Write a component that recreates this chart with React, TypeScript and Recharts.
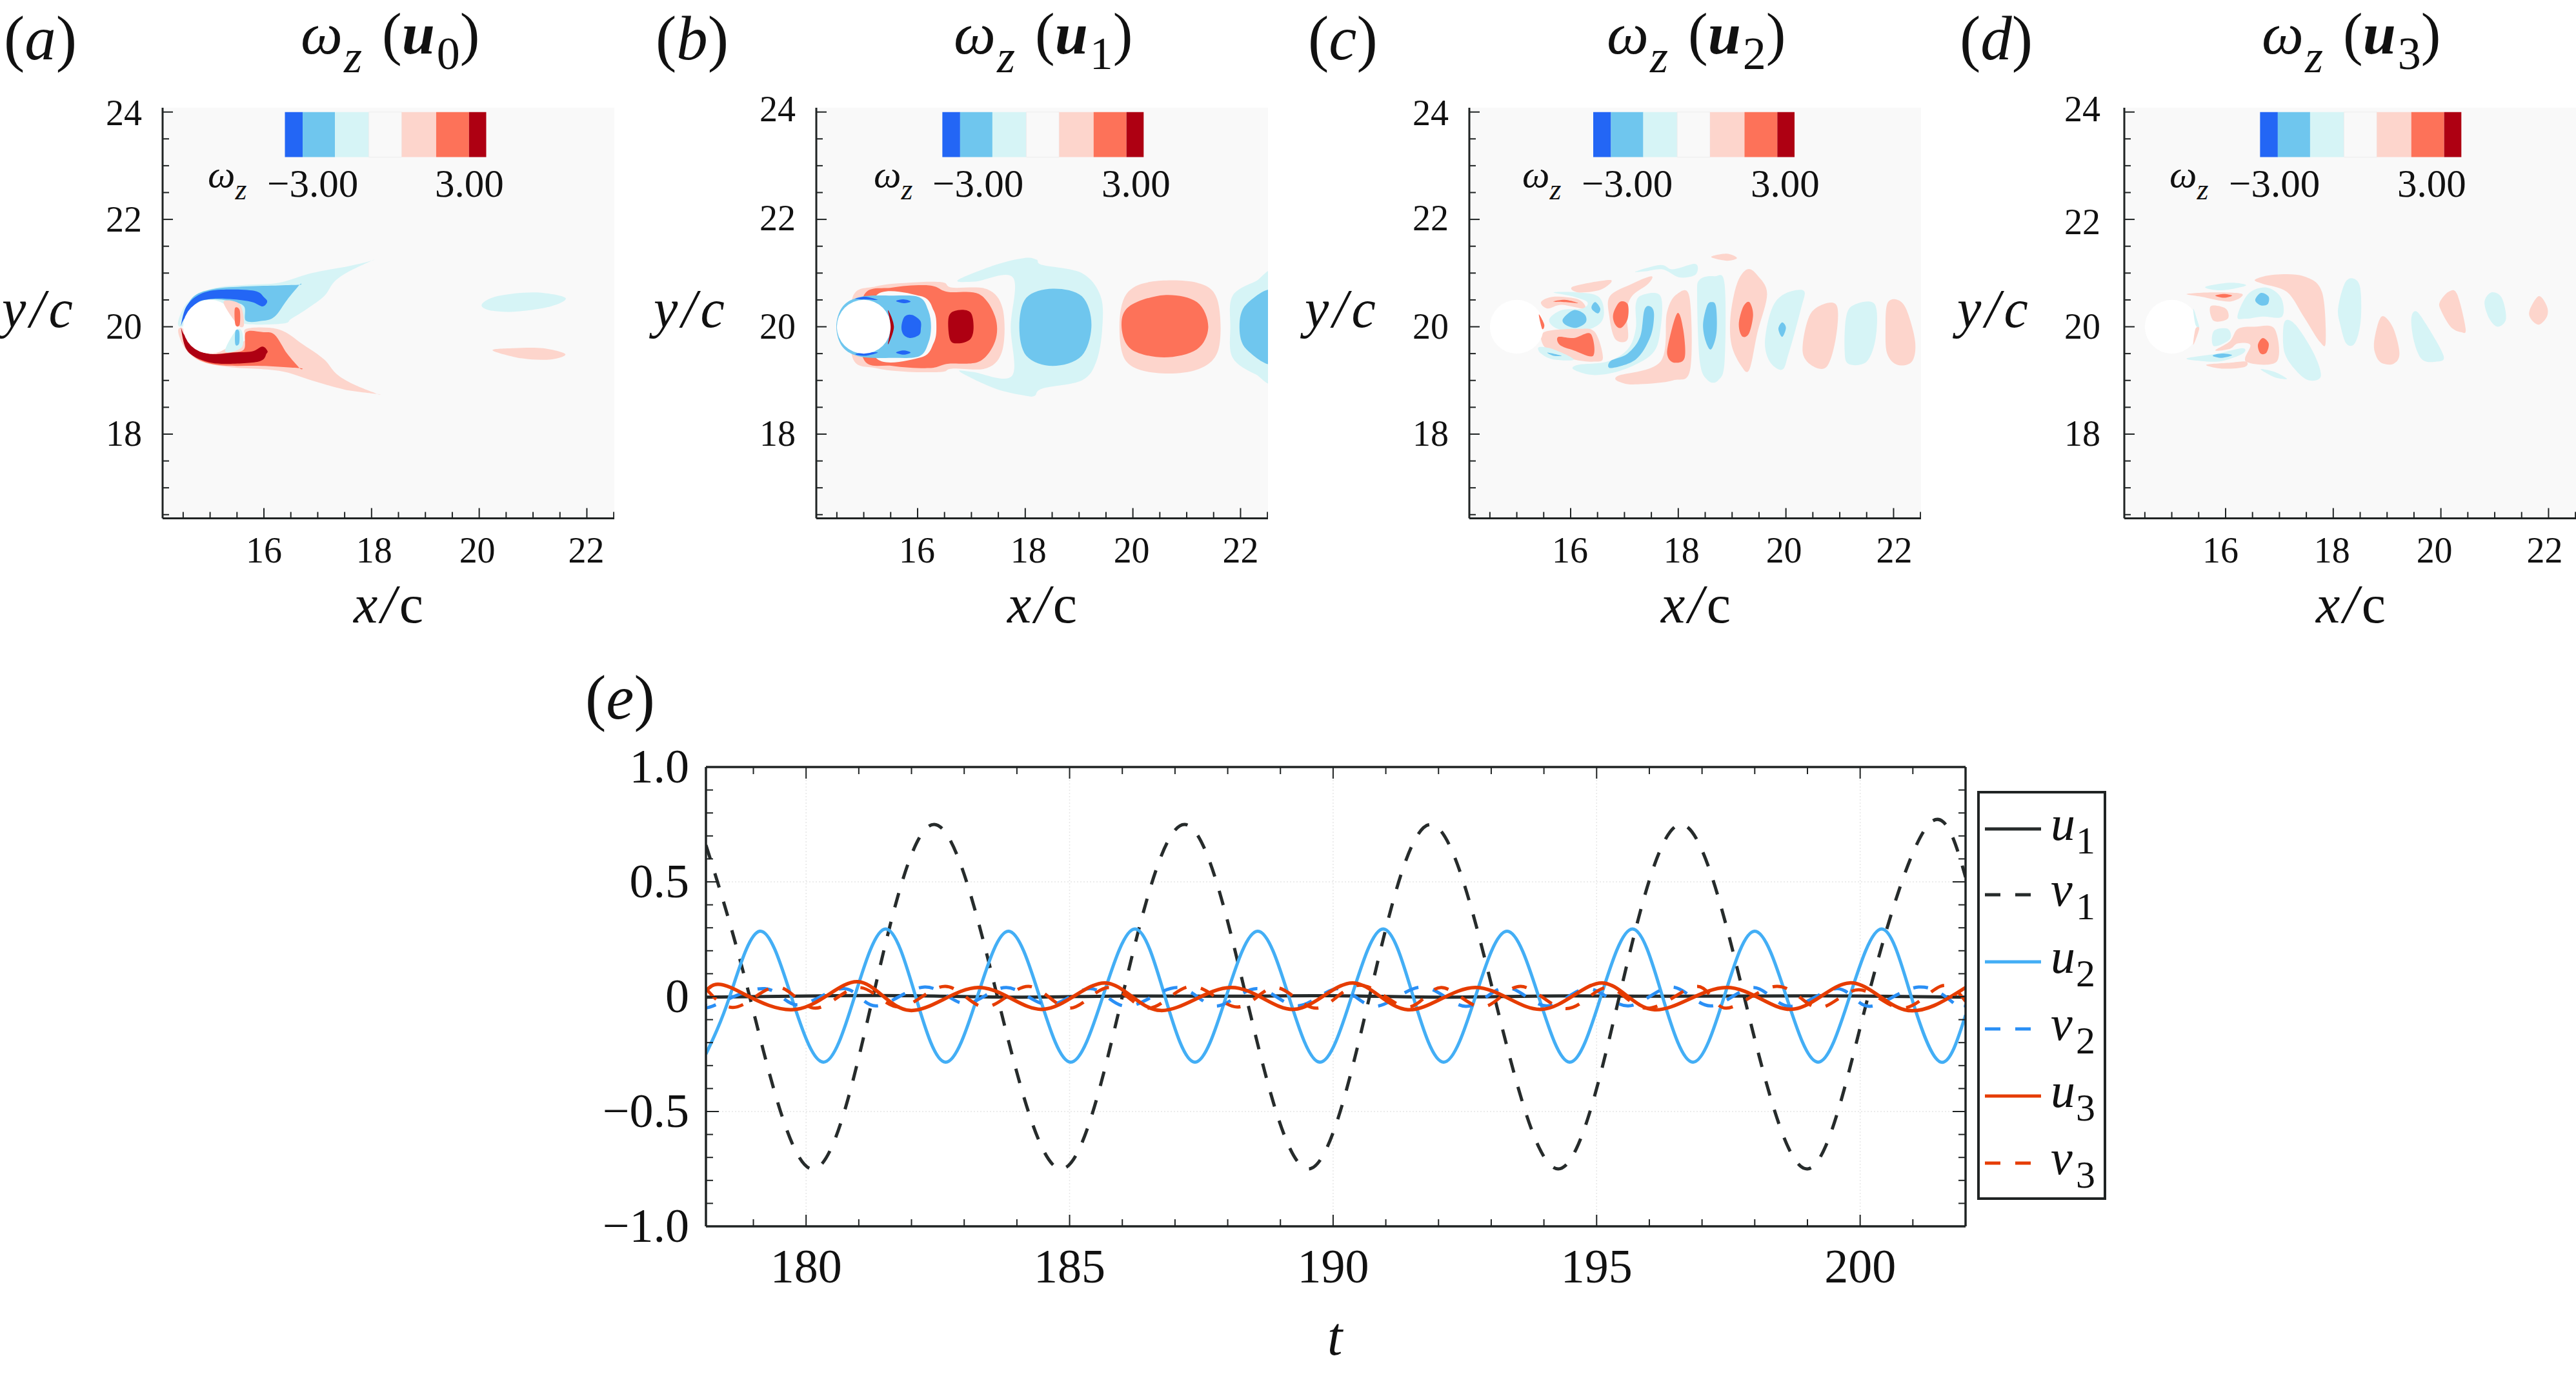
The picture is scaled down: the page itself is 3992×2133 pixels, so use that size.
import React from "react";
import { ScatterChart, Scatter, LineChart, Line, XAxis, YAxis, ReferenceArea, ReferenceLine } from "recharts";

type P = [number, number];

// ---------- colour levels ----------
const L = "#fdd5cc", B = "#d6f4f6", M = "#6fc6ee", D = "#2366f5", R = "#fd7259", K = "#ae0012", BG = "#f9f9f9";
const colorbarColors = [D, M, B, BG, L, R, K];
const colorbarEdges = [16.39, 16.72, 17.32, 17.95, 18.56, 19.2, 19.81, 20.13];
const colorbarTop = 24.0;
const colorbarBottom = 23.16;
const cylinder = [{ x: 15, y: 20 }];

// ---------- panel (a) contours, u0 ----------
const a1: P[] = [[14.44,20],[14.5,20.34],[14.75,20.59],[15.13,20.73],[15.67,20.78],[16.28,20.82],[16.89,21],[17.58,21.13],[18,21.23],[18,21.23],[17.58,21.03],[17.31,20.84],[17.12,20.57],[16.81,20.34],[16.51,20.15],[16.36,20.06],[15.67,20.05],[15.59,20.19],[15.05,20.27]];
const a2: P[] = [[14.48,20.11],[14.67,20.54],[15.05,20.7],[15.67,20.75],[16.28,20.77],[16.66,20.78],[16.66,20.78],[16.43,20.5],[16.2,20.19],[15.97,20.11],[15.67,20.11],[15.63,20.38],[15.36,20.48],[14.98,20.51],[14.67,20.42]];
const a3: P[] = [[14.46,20.02],[14.56,20.38],[14.82,20.61],[15.21,20.69],[15.82,20.67],[16.01,20.54],[16.06,20.46],[15.97,20.38],[15.78,20.46],[15.44,20.51],[15.05,20.52],[14.75,20.44],[14.52,20.15]];
const a4: P[] = [[14.44,19.98],[14.52,19.62],[14.82,19.36],[15.36,19.25],[16.28,19.18],[16.89,19],[17.5,18.83],[18.1,18.75],[18.1,18.75],[17.66,18.93],[17.35,19.12],[17.12,19.39],[16.74,19.66],[16.28,19.95],[15.67,19.96],[15.63,19.73],[15.05,19.69]];
const a5: P[] = [[14.48,19.89],[14.67,19.47],[15.13,19.29],[15.97,19.27],[16.66,19.23],[16.66,19.23],[16.43,19.5],[16.2,19.85],[15.97,19.9],[15.67,19.9],[15.63,19.58],[15.36,19.52],[14.98,19.49],[14.67,19.58]];
const a6: P[] = [[14.46,19.98],[14.56,19.58],[14.82,19.39],[15.21,19.31],[15.9,19.35],[16.05,19.5],[16.06,19.56],[15.97,19.63],[15.78,19.54],[15.44,19.52],[15.05,19.49],[14.75,19.58],[14.52,19.85]];
const a7: P[] = [[20.05,20.42],[20.34,20.57],[21.03,20.64],[21.6,20.54],[21.33,20.38],[20.64,20.28],[20.18,20.31]];
const a8: P[] = [[20.25,19.56],[20.64,19.6],[21.18,19.6],[21.6,19.49],[21.33,19.39],[20.8,19.41]];
const a9: P[] = [[15.25,20.46],[15.55,20.42],[15.63,20.04],[15.51,20.04]];
const a10: P[] = [[15.46,20.34],[15.55,20.31],[15.55,20.04],[15.47,20.04]];
const a11: P[] = [[15.47,19.92],[15.59,19.92],[15.59,19.62],[15.28,19.54]];
const a12: P[] = [[15.47,19.92],[15.54,19.92],[15.54,19.69],[15.47,19.67]];

// ---------- panel (b) contours, u1 ----------
const b1: P[] = [[14.79,20.54],[15.22,20.75],[15.83,20.82],[16.45,20.83],[16.64,20.73],[17.29,20.7],[17.58,20.34],[17.58,19.58],[17.29,19.23],[16.64,19.22],[16.45,19.16],[15.83,19.16],[15.22,19.23],[14.79,19.43]];
const b2: P[] = [[14.99,20.56],[15.53,20.73],[16.22,20.77],[16.56,20.65],[17.14,20.61],[17.44,20.19],[17.44,19.73],[17.14,19.35],[16.56,19.31],[16.22,19.23],[15.53,19.27],[14.99,19.41]];
const b3: P[] = [[15.22,20.57],[16.06,20.57],[16.3,20.3],[16.35,20],[16.3,19.7],[16.06,19.43],[15.22,19.43]];
const b4: P[] = [[14.49,20],[14.61,20.38],[14.95,20.56],[15.53,20.58],[16.03,20.55],[16.2,20.3],[16.25,20],[16.2,19.7],[16.03,19.45],[15.53,19.42],[14.95,19.44],[14.61,19.62]];
const b5: P[] = [[15.7,20],[15.76,20.19],[15.9,20.22],[16.05,20.11],[16.06,19.96],[16.03,19.85],[15.87,19.79],[15.74,19.85]];
const b6: P[] = [[15.6,20.48],[15.74,20.51],[15.87,20.47],[15.74,20.44]];
const b7: P[] = [[15.6,19.52],[15.74,19.56],[15.87,19.52],[15.74,19.48]];
const b8: P[] = [[14.84,20.52],[15.03,20.56],[15.26,20.5],[15.03,20.51]];
const b9: P[] = [[14.84,19.49],[15.03,19.52],[15.26,19.52],[15.03,19.46]];
const b10: P[] = [[15.45,20.31],[15.56,20],[15.45,19.67],[15.5,20]];
const b11: P[] = [[16.58,20.19],[16.75,20.31],[16.98,20.27],[17.04,20],[16.98,19.77],[16.75,19.69],[16.6,19.77]];
const b12: P[] = [[16.75,20.87],[17.44,21.15],[17.98,21.28],[18.21,21.25],[18.32,21.15],[19.05,21],[19.4,20.57],[19.43,19.96],[19.32,19.35],[19.05,19],[18.32,18.85],[18.17,18.71],[17.98,18.72],[17.44,18.85],[16.79,19.16],[17.02,19.16],[17.75,19.08],[17.73,20],[17.77,20.92],[17.06,20.84]];
const b13: P[] = [[17.89,20],[18.02,20.54],[18.51,20.71],[19.05,20.57],[19.23,20.04],[19.05,19.46],[18.51,19.27],[18.02,19.46]];
const b14: P[] = [[19.75,20],[19.88,20.61],[20.35,20.84],[21.19,20.82],[21.57,20.5],[21.59,19.58],[21.19,19.2],[20.43,19.14],[19.88,19.35]];
const b15: P[] = [[19.79,20],[19.93,20.38],[20.58,20.59],[21.19,20.46],[21.4,20],[21.19,19.58],[20.58,19.43],[19.97,19.58]];
const b16: P[] = [[21.81,20],[21.85,20.57],[22.27,20.84],[22.65,20.94],[22.65,19.06],[22.27,19.12],[21.85,19.43]];
const b17: P[] = [[21.98,20],[22.11,20.42],[22.65,20.64],[22.65,19.35],[22.11,19.58]];

// ---------- panel (c) contours, u2 ----------
const c1: P[] = [[15.45,20.46],[15.68,20.56],[16.14,20.51],[16.26,20.34],[15.83,20.41],[15.57,20.34]];
const c2: P[] = [[15.68,20.47],[15.91,20.5],[16.14,20.44],[15.91,20.46]];
const c3: P[] = [[15.68,20.64],[16.14,20.64],[16.52,20.56],[16.62,20.27],[16.52,20.04],[16.14,19.9],[15.76,19.96],[15.6,20.13],[15.83,20.31],[16.22,20.34],[16.31,20.46],[16.06,20.56]];
const c4: P[] = [[15.86,20.15],[16.06,20.31],[16.26,20.23],[16.28,20.08],[16.1,19.98],[15.9,20.04]];
const c5: P[] = [[16.39,20.38],[16.46,20.46],[16.55,20.34],[16.51,20.25],[16.41,20.31]];
const c6: P[] = [[16.05,20.75],[16.74,20.87],[16.56,20.69],[16.14,20.64]];
const c7: P[] = [[15.51,19.9],[16.14,19.96],[16.45,19.9],[16.6,19.43],[16.45,19.35],[16.06,19.39],[15.68,19.54],[15.49,19.66]];
const c8: P[] = [[15.77,19.81],[16.06,19.79],[16.37,19.87],[16.42,19.46],[16.06,19.56],[15.8,19.66]];
const c9: P[] = [[15.41,19.62],[15.68,19.58],[16.06,19.39],[15.68,19.39],[15.45,19.5]];
const c10: P[] = [[15.57,19.52],[15.83,19.46],[15.68,19.46]];
const c11: P[] = [[17.33,20.59],[17.67,20.57],[17.67,19.96],[17.52,19.5],[16.98,19.2],[16.45,19.1],[16.06,19.2],[16.14,19.29],[16.68,19.35],[17.06,19.58],[17.21,19.96],[17.21,20.42]];
const c12: P[] = [[17.37,20.31],[17.48,20.38],[17.55,20.23],[17.48,19.81],[17.21,19.39],[16.75,19.23],[16.74,19.36],[17.06,19.5],[17.29,19.81]];
const c13: P[] = [[16.73,20.57],[17.14,20.8],[17.5,20.94],[17.44,20.8],[17.14,20.57],[17.04,20.27],[17.06,19.77],[16.83,19.77],[16.72,20.19]];
const c14: P[] = [[16.79,20.23],[16.91,20.46],[17.06,20.42],[17.06,20.15],[16.94,19.98],[16.83,20.04]];
const c15: P[] = [[16.87,19.08],[17.67,19.35],[17.79,20.27],[17.98,20.61],[18.21,20.54],[18.22,19.2],[17.9,19],[17.29,18.93],[16.98,18.95]];
const c16: P[] = [[17.81,19.66],[17.98,20.25],[18.09,19.96],[18.12,19.43],[17.94,19.33],[17.81,19.43]];
const c17: P[] = [[17.21,21.03],[17.67,21.15],[17.9,21.07],[18.32,21.17],[18.32,20.97],[18.02,20.92],[17.71,21.07],[17.37,21.03]];
const c18: P[] = [[18.61,21.3],[18.9,21.36],[19.09,21.28],[18.9,21.23]];
const c19: P[] = [[18.35,20.57],[18.4,20.88],[18.67,20.94],[18.86,20.8],[18.86,19.35],[18.74,19],[18.55,19],[18.4,19.35]];
const c20: P[] = [[18.46,20.04],[18.53,20.38],[18.61,20.46],[18.7,20.38],[18.71,19.89],[18.61,19.58],[18.51,19.73]];
const c21: P[] = [[18.97,20.19],[19.09,20.8],[19.28,21.07],[19.47,20.96],[19.65,20.61],[19.47,19.89],[19.32,19.2],[19.17,19.27],[18.99,19.66]];
const c22: P[] = [[19.13,20.11],[19.21,20.38],[19.32,20.46],[19.39,20.23],[19.32,19.89],[19.21,19.81],[19.14,19.92]];
const c23: P[] = [[19.61,19.73],[19.74,20.34],[19.97,20.61],[20.33,20.67],[20.28,20.34],[20.05,19.5],[19.93,19.2],[19.7,19.35]];
const c24: P[] = [[19.86,19.96],[19.93,20.08],[20,19.98],[19.93,19.81]];
const c25: P[] = [[20.31,19.54],[20.43,20.19],[20.7,20.42],[20.95,20.38],[20.93,19.81],[20.77,19.27],[20.51,19.26]];
const c26: P[] = [[21.09,19.58],[21.12,20.19],[21.27,20.41],[21.65,20.42],[21.67,19.81],[21.5,19.35],[21.16,19.31]];
const c27: P[] = [[21.85,19.96],[21.88,20.42],[22.04,20.51],[22.23,20.34],[22.4,19.73],[22.34,19.35],[22.07,19.29],[21.88,19.5]];
const c28: P[] = [[15.41,20.23],[15.51,20.04],[15.47,19.96]];

// ---------- panel (d) contours, u3 ----------
const d1: P[] = [[15.28,20.61],[15.78,20.64],[16.31,20.61],[16.08,20.47],[15.55,20.56]];
const d2: P[] = [[15.81,20.58],[15.97,20.61],[16.12,20.58],[15.97,20.54]];
const d3: P[] = [[15.62,20.74],[16.08,20.82],[16.38,20.77],[15.93,20.68]];
const d4: P[] = [[15.72,20.38],[16,20.34],[16.04,20.15],[15.78,20.11]];
const d5: P[] = [[16.22,20.19],[16.42,20.61],[16.76,20.73],[17.03,20.54],[17.05,20.19],[16.69,20.19],[16.38,20.15]];
const d6: P[] = [[16.55,20.5],[16.66,20.63],[16.8,20.56],[16.78,20.42],[16.65,20.4]];
const d7: P[] = [[16.55,20.88],[16.91,20.97],[17.45,20.94],[17.79,20.65],[17.86,19.73],[17.75,19.72],[17.45,20.19],[17.14,20.65],[16.69,20.8]];
const d8: P[] = [[15.78,19.92],[16.04,19.96],[16.08,19.77],[15.78,19.64]];
const d9: P[] = [[15.81,19.56],[16.08,19.73],[16.23,19.96],[16.53,20],[16.91,19.96],[16.95,19.35],[16.38,19.35],[16.46,19.66],[16.23,19.69],[16.08,19.59]];
const d10: P[] = [[16.6,19.66],[16.69,19.79],[16.8,19.69],[16.76,19.52],[16.65,19.5]];
const d11: P[] = [[15.28,19.41],[15.85,19.5],[16.31,19.6],[16.32,19.5],[15.93,19.36],[15.55,19.36]];
const d12: P[] = [[15.76,19.46],[15.93,19.5],[16.12,19.47],[15.93,19.42]];
const d13: P[] = [[15.64,19.29],[16.08,19.33],[16.38,19.35],[16.35,19.25],[15.93,19.22]];
const d14: P[] = [[16.65,19.21],[16.91,19.16],[17.14,19.03],[16.91,19.06]];
const d15: P[] = [[17.07,19.96],[17.14,20.13],[17.33,20],[17.64,19.5],[17.77,19.08],[17.56,19],[17.33,19.16],[17.1,19.5]];
const d16: P[] = [[18.09,20.34],[18.21,20.8],[18.36,20.9],[18.5,20.73],[18.51,20.11],[18.4,19.69],[18.24,19.69],[18.13,20.04]];
const d17: P[] = [[18.76,19.73],[18.85,20.11],[18.95,20.19],[19.12,19.96],[19.23,19.5],[19.12,19.31],[18.89,19.33],[18.78,19.5]];
const d18: P[] = [[19.45,20.15],[19.54,20.29],[19.73,20.04],[20.05,19.46],[19.92,19.35],[19.65,19.39],[19.5,19.73]];
const d19: P[] = [[19.98,20.46],[20.14,20.65],[20.3,20.61],[20.46,19.96],[20.37,19.9],[20.18,20],[20,20.31]];
const d20: P[] = [[20.81,20.46],[20.94,20.64],[21.13,20.54],[21.21,20.15],[21.06,20],[20.9,20.15]];
const d21: P[] = [[21.65,20.31],[21.82,20.57],[21.97,20.38],[21.97,20.19],[21.82,20.04],[21.67,20.15]];
const d22: P[] = [[15.4,20.34],[15.51,20],[15.44,20.04]];
const d23: P[] = [[15.4,19.66],[15.51,19.96],[15.44,19.96]];

// ---------- panel (e) series: [t, value] ----------
const u1: P[] = [[178.1,-0.002],[180,0.003],[182,0.004],[184,-0.002],[186,0.003],[188,0.002],[190,0.004],[192,-0.002],[194,0.003],[196,0.002],[198,0.003],[200,0.003],[202,-0.002]];
const v1: P[] = [[178.1,0.66],[178.93,0],[180.1,-0.75],[181.27,0],[182.43,0.75],[183.63,0],[184.84,-0.75],[186,0],[187.18,0.75],[188.35,0],[189.53,-0.75],[190.69,0],[191.85,0.75],[193.06,0],[194.27,-0.75],[195.43,0],[196.6,0.75],[197.8,0],[199,-0.75],[200.15,0],[201.3,0.75],[202,0.52]];
const u2: P[] = [[178.1,-0.25],[178.55,0],[179.12,0.285],[179.72,0],[180.33,-0.285],[180.92,0],[181.51,0.295],[182.08,0],[182.65,-0.285],[183.25,0],[183.84,0.285],[184.43,0],[185.02,-0.285],[185.63,0],[186.24,0.295],[186.81,0],[187.38,-0.285],[187.97,0],[188.57,0.285],[189.16,0],[189.75,-0.285],[190.35,0],[190.95,0.295],[191.52,0],[192.1,-0.285],[192.7,0],[193.3,0.285],[193.9,0],[194.49,-0.285],[195.08,0],[195.68,0.295],[196.25,0],[196.83,-0.285],[197.42,0],[198,0.285],[198.6,0],[199.2,-0.285],[199.8,0],[200.41,0.295],[200.97,0],[201.53,-0.285],[202,-0.08]];
const v2: P[] = [[178.1,-0.03],[178.27,-0.037],[179.22,0.035],[179.85,-0.036],[180.72,0.035],[181.33,-0.04],[182.25,0.042],[183.02,-0.03],[183.8,0.04],[184.6,-0.035],[185.4,0.035],[186.1,-0.042],[187.04,0.04],[187.77,-0.041],[188.55,0.035],[189.32,-0.04],[190.1,0.035],[190.81,-0.042],[191.69,0.042],[192.52,-0.042],[193.28,0.04],[194.05,-0.04],[194.83,0.035],[195.6,-0.04],[196.42,0.042],[197.16,-0.04],[197.97,0.04],[198.67,-0.042],[199.56,0.035],[200.18,-0.042],[201.11,0.042],[201.85,-0.042],[202,-0.035]];
const u3: P[] = [[178.1,0.025],[178.57,0.04],[179.82,-0.055],[180.98,0.065],[181.97,-0.06],[183.27,0.04],[184.5,-0.055],[185.67,0.06],[186.72,-0.06],[188.06,0.04],[189.26,-0.055],[190.37,0.06],[191.42,-0.057],[192.7,0.04],[193.96,-0.055],[195.1,0.06],[196.1,-0.057],[197.46,0.04],[198.7,-0.055],[199.8,0.06],[200.84,-0.057],[202,0.04]];
const v3: P[] = [[178.1,0.035],[178.7,-0.044],[179.47,0.042],[180.18,-0.05],[181,0.04],[181.77,-0.045],[182.64,0.045],[183.4,-0.045],[184.22,0.045],[184.99,-0.05],[185.75,0.04],[186.5,-0.05],[187.32,0.045],[188.18,-0.045],[188.91,0.04],[189.69,-0.05],[190.5,0.05],[191.4,-0.045],[192.05,0.04],[192.83,-0.045],[193.56,0.045],[194.42,-0.052],[195.2,0.04],[195.97,-0.05],[196.91,0.045],[197.46,-0.05],[198.42,0.045],[199.2,-0.048],[199.97,0.03],[200.79,-0.05],[201.52,0.045],[202,-0.02]];

// ---------- ticks ----------
const panelXTicks = [14.5,15,15.5,16,16.5,17,17.5,18,18.5,19,19.5,20,20.5,21,21.5,22,22.5];
const panelYTicks = [16.5,17,17.5,18,18.5,19,19.5,20,20.5,21,21.5,22,22.5,23,23.5,24];
const panelXLabels = [16, 18, 20, 22];
const panelYLabels = [18, 20, 22, 24];
const timeTicks = [179,180,181,182,183,184,185,186,187,188,189,190,191,192,193,194,195,196,197,198,199,200,201];
const timeLabels = [180, 185, 190, 195, 200];
const ampTicks = [-0.9,-0.8,-0.7,-0.6,-0.5,-0.4,-0.3,-0.2,-0.1,0,0.1,0.2,0.3,0.4,0.5,0.6,0.7,0.8,0.9];
const ampLabels: [number, string][] = [[-1,"−1.0"],[-0.5,"−0.5"],[0,"0"],[0.5,"0.5"],[1,"1.0"]];

const SERIF = "'Liberation Serif', serif";
const INK = "#1f2323";

// closed Catmull-Rom path through the contour points
function closedSmooth(context: any) {
  let pts: number[][] = [];
  return {
    areaStart() {}, areaEnd() {},
    lineStart() { pts = []; },
    point(x: number, y: number) { pts.push([+x, +y]); },
    lineEnd() {
      const n = pts.length;
      if (n < 3) return;
      context.moveTo(pts[0][0], pts[0][1]);
      for (let i = 0; i < n; i++) {
        const p0 = pts[(i - 1 + n) % n], p1 = pts[i], p2 = pts[(i + 1) % n], p3 = pts[(i + 2) % n];
        context.bezierCurveTo(p1[0] + (p2[0] - p0[0]) / 6, p1[1] + (p2[1] - p0[1]) / 6, p2[0] - (p3[0] - p1[0]) / 6, p2[1] - (p3[1] - p1[1]) / 6, p2[0], p2[1]);
      }
      context.closePath();
    },
  };
}

const noDot = () => <g />;
const whiteDisc = (p: any) => <circle cx={p.cx} cy={p.cy} r={41.7} fill="#fff" />;

function near(list: number[], v: number) { return list.some((t) => Math.abs(t - v) < 1e-6); }

// Inward-pointing ticks with their labels; the tick value comes from the axis scale.
function makeTick(side: "left" | "bottom" | "right" | "top", margin: number, fs: number, isMajor: (v: number) => boolean, label: (v: number) => string | null, major: number, minor: number, nudge: (v: number) => number = () => 0) {
  return (props: any) => {
    const { x, y, payload } = props;
    const v = payload.value;
    const len = isMajor(v) ? major : minor;
    const txt = label(v);
    const common = { stroke: INK, strokeWidth: 2 };
    if (side === "left") return (<g><line x1={x + margin} x2={x + margin + len} y1={y} y2={y} {...common} />{txt != null && <text x={x} y={y + fs * 0.33 + nudge(v)} textAnchor="end" fontSize={fs} fontFamily={SERIF} fill="#111">{txt}</text>}</g>);
    if (side === "bottom") return (<g><line x1={x} x2={x} y1={y - margin} y2={y - margin - len} {...common} />{txt != null && <text x={x + nudge(v)} y={y} textAnchor="middle" fontSize={fs} fontFamily={SERIF} fill="#111">{txt}</text>}</g>);
    if (side === "right") return (<g><line x1={x - margin} x2={x - margin - len} y1={y} y2={y} {...common} /></g>);
    return (<g><line x1={x} x2={x} y1={y + margin} y2={y + margin + len} {...common} /></g>);
  };
}

type Layer = [string, P[]];
const panelA: Layer[] = [[B,a1],[M,a2],[D,a3],[L,a4],[R,a5],[K,a6],[B,a7],[L,a8]];
const panelATop: Layer[] = [[L,a9],[R,a10],[B,a11],[M,a12]];
const panelB: Layer[] = [[B,b12],[M,b13],[L,b14],[R,b15],[B,b16],[M,b17],[L,b1],[R,b2],[BG,b3],[M,b4],[D,b5],[D,b6],[D,b7],[D,b8],[D,b9],[K,b11]];
const panelBTop: Layer[] = [[K,b10]];
const panelC: Layer[] = [[L,c1],[R,c2],[B,c3],[M,c4],[M,c5],[L,c6],[L,c7],[R,c8],[B,c9],[M,c10],[B,c11],[M,c12],[L,c13],[R,c14],[L,c15],[R,c16],[B,c17],[L,c18],[B,c19],[M,c20],[L,c21],[R,c22],[B,c23],[M,c24],[L,c25],[B,c26],[L,c27]];
const panelCTop: Layer[] = [[R,c28]];
const panelD: Layer[] = [[L,d1],[R,d2],[B,d3],[L,d4],[B,d5],[M,d6],[L,d7],[B,d8],[L,d9],[R,d10],[B,d11],[M,d12],[L,d13],[B,d14],[B,d15],[B,d16],[L,d17],[B,d18],[L,d19],[B,d20],[L,d21]];
const panelDTop: Layer[] = [[B,d22],[L,d23]];

const PW = 700, PH = 636.6, AXW = 120, PTOP = 50;
const xDomain: [number, number] = [14.118, 22.51];
const yDomain: [number, number] = [16.43, 24.08];

function contour([color, pts]: Layer, key: string) {
  return (
    <Scatter key={key} data={pts.map(([x, y]) => ({ x, y }))} shape={noDot} fill={color} stroke="none" isAnimationActive={false}
      line={{ fill: color, stroke: "none" } as any} lineType="joint" lineJointType={closedSmooth as any} legendType="none" />
  );
}

function Panel({ left, layers, top, cbShift, xNudge, yNudge, yGap }: { left: number; layers: Layer[]; top: Layer[]; cbShift: number; xNudge: number[]; yNudge: number[]; yGap: number }) {
  return (
    <div style={{ position: "absolute", left: left - AXW, top: 167 - PTOP }}>
      <ScatterChart width={AXW + PW} height={PTOP + PH + 100} margin={{ top: PTOP, right: 0, bottom: 0, left: 0 }}>
        <XAxis type="number" dataKey="x" domain={xDomain} allowDataOverflow ticks={panelXTicks} interval={0} height={100} tickSize={0} tickMargin={68}
          axisLine={{ stroke: INK, strokeWidth: 3 }} tickLine={false}
          tick={makeTick("bottom", 68, 56, (v) => near(panelXLabels, v), (v) => (near(panelXLabels, v) ? String(v) : null), 16, 10, (v) => xNudge[panelXLabels.indexOf(v)] || 0) as any} />
        <YAxis type="number" dataKey="y" domain={yDomain} allowDataOverflow ticks={panelYTicks} interval={0} width={AXW} tickSize={0} tickMargin={yGap}
          axisLine={{ stroke: INK, strokeWidth: 3 }} tickLine={false}
          tick={makeTick("left", yGap, 56, (v) => near(panelYLabels, v), (v) => (near(panelYLabels, v) ? String(v) : null), 16, 10, (v) => yNudge[panelYLabels.indexOf(v)] || 0) as any} />
        <ReferenceArea x1={xDomain[0]} x2={xDomain[1]} y1={yDomain[0]} y2={yDomain[1]} fill={BG} fillOpacity={1} stroke="none" />
        {colorbarColors.map((c, i) => (
          <ReferenceArea key={c} x1={colorbarEdges[i] + cbShift} x2={colorbarEdges[i + 1] + cbShift} y1={colorbarBottom} y2={colorbarTop} fill={c} fillOpacity={1} stroke={c === BG ? "#ededed" : "none"} strokeWidth={1} />
        ))}
        {layers.map((l, i) => contour(l, "l" + i))}
        <Scatter data={cylinder} shape={whiteDisc} isAnimationActive={false} legendType="none" />
        {top.map((l, i) => contour(l, "t" + i))}
      </ScatterChart>
    </div>
  );
}

function toSeries(pts: P[]) { return pts.map(([t, v]) => ({ t, v })); }

const E_W = 1952, E_H = 712, E_AX = 200, ETOP = 50;
const tDomain: [number, number] = [178.1, 202];

function PanelE() {
  const isT = (v: number) => near(timeLabels, v);
  const isA = (v: number) => near([-0.5, 0, 0.5], v);
  const lab = (v: number) => { const f = ampLabels.find((e) => Math.abs(e[0] - v) < 1e-6); return f ? f[1] : null; };
  const yT = [-1, ...ampTicks, 1];
  return (
    <div style={{ position: "absolute", left: 1094 - E_AX, top: 1189 - 12 - ETOP }}>
      <LineChart width={E_AX + E_W + 12} height={ETOP + 12 + E_H + 110} margin={{ top: ETOP, right: 0, bottom: 0, left: 0 }}>
        <XAxis xAxisId="b" type="number" dataKey="t" domain={tDomain} allowDataOverflow ticks={timeTicks} interval={0} height={110} tickSize={0} tickMargin={87}
          axisLine={{ stroke: INK, strokeWidth: 3.5 }} tickLine={false}
          tick={makeTick("bottom", 87, 74, isT, (v) => (isT(v) ? String(v) : null), 18, 11) as any} />
        <XAxis xAxisId="t" orientation="top" type="number" dataKey="t" domain={tDomain} allowDataOverflow ticks={timeTicks} interval={0} height={12} tickSize={0} tickMargin={4}
          axisLine={{ stroke: INK, strokeWidth: 3.5 }} tickLine={false}
          tick={makeTick("top", 4, 74, isT, () => null, 18, 11) as any} />
        <YAxis yAxisId="l" type="number" domain={[-1, 1]} allowDataOverflow ticks={yT} interval={0} width={E_AX} tickSize={0} tickMargin={26}
          axisLine={{ stroke: INK, strokeWidth: 3.5 }} tickLine={false}
          tick={makeTick("left", 26, 74, isA, lab, 20, 11) as any} />
        <YAxis yAxisId="r" orientation="right" type="number" domain={[-1, 1]} allowDataOverflow ticks={yT} interval={0} width={12} tickSize={0} tickMargin={4}
          axisLine={{ stroke: INK, strokeWidth: 3.5 }} tickLine={false}
          tick={makeTick("right", 4, 74, isA, () => null, 20, 11) as any} />
        {timeLabels.map((t) => (<ReferenceLine key={t} xAxisId="b" yAxisId="l" x={t} stroke="#e6e6e6" strokeWidth={1.5} strokeDasharray="2 3" />))}
        {[-0.5, 0.5].map((v) => (<ReferenceLine key={v} xAxisId="b" yAxisId="l" y={v} stroke="#e6e6e6" strokeWidth={1.5} strokeDasharray="2 3" />))}
        <Line xAxisId="b" yAxisId="l" data={toSeries(u1)} dataKey="v" type="natural" stroke="#262b2b" strokeWidth={5} dot={false} isAnimationActive={false} />
        <Line xAxisId="b" yAxisId="l" data={toSeries(v1)} dataKey="v" type="natural" stroke="#262b2b" strokeWidth={5} strokeDasharray="23 23" dot={false} isAnimationActive={false} />
        <Line xAxisId="b" yAxisId="l" data={toSeries(u2)} dataKey="v" type="natural" stroke="#43aef5" strokeWidth={5} dot={false} isAnimationActive={false} />
        <Line xAxisId="b" yAxisId="l" data={toSeries(v2)} dataKey="v" type="natural" stroke="#2a8ff5" strokeWidth={5} strokeDasharray="23 23" dot={false} isAnimationActive={false} />
        <Line xAxisId="b" yAxisId="l" data={toSeries(v3)} dataKey="v" type="natural" stroke="#e63c00" strokeWidth={5} strokeDasharray="23 23" dot={false} isAnimationActive={false} />
        <Line xAxisId="b" yAxisId="l" data={toSeries(u3)} dataKey="v" type="natural" stroke="#e63c00" strokeWidth={5.5} dot={false} isAnimationActive={false} />
      </LineChart>
    </div>
  );
}

function Title({ x, sub }: { x: number; sub: string }) {
  return (
    <text x={x} y={83} fontSize={92} fontFamily={SERIF} fill="#111">
      <tspan fontStyle="italic">ω</tspan>
      <tspan fontStyle="italic" fontSize={72} dy={29} dx={2}>z</tspan>
      <tspan dy={-29} dx={8}> (</tspan>
      <tspan fontStyle="italic" fontWeight="bold">u</tspan>
      <tspan fontSize={72} dy={24} dx={3}>{sub}</tspan>
      <tspan dy={-24}>)</tspan>
    </text>
  );
}

function CbLabels({ wx, mx, px }: { wx: number; mx: number; px: number }) {
  return (
    <g fontFamily={SERIF} fill="#111">
      <text x={wx} y={290} fontSize={60} fontStyle="italic">ω<tspan fontSize={46} dy={19}>z</tspan></text>
      <text x={mx} y={305} fontSize={61}>−3.00</text>
      <text x={px} y={305} fontSize={61}>3.00</text>
    </g>
  );
}

function Labels() {
  const panels = [
    { tag: "a", tagX: 6, titleX: 466, sub: "0", yX: 3, xX: 548, cb: [322, 414, 674] },
    { tag: "b", tagX: 1016, titleX: 1478, sub: "1", yX: 1013, xX: 1561, cb: [1354, 1445, 1707] },
    { tag: "c", tagX: 2027, titleX: 2490, sub: "2", yX: 2022, xX: 2574, cb: [2359, 2451, 2713] },
    { tag: "d", tagX: 3037, titleX: 3505, sub: "3", yX: 3033, xX: 3589, cb: [3362, 3454, 3715] },
  ];
  const legend: [string, string, string, string | undefined, number, number][] = [
    ["u", "1", "#262b2b", undefined, 1285, 5],
    ["v", "1", "#262b2b", "24 23", 1387, 5],
    ["u", "2", "#43aef5", undefined, 1491, 5],
    ["v", "2", "#2a8ff5", "24 23", 1595, 5],
    ["u", "3", "#e63c00", undefined, 1699, 5],
    ["v", "3", "#e63c00", "24 23", 1803, 5],
  ];
  return (
    <svg width={3992} height={2133} style={{ position: "absolute", left: 0, top: 0, pointerEvents: "none" }}>
      {panels.map((p) => (
        <g key={p.tag}>
          <text x={p.tagX} y={92} fontSize={97} fontFamily={SERIF} fill="#111">(<tspan fontStyle="italic">{p.tag}</tspan>)</text>
          <Title x={p.titleX} sub={p.sub} />
          <CbLabels wx={p.cb[0]} mx={p.cb[1]} px={p.cb[2]} />
          <text x={p.yX} y={507} fontSize={84} fontFamily={SERIF} fill="#111" fontStyle="italic" letterSpacing={6}>y/c</text>
          <text x={p.xX} y={965} fontSize={84} fontFamily={SERIF} fill="#111" letterSpacing={5}><tspan fontStyle="italic">x/</tspan>c</text>
        </g>
      ))}
      <text x={907} y={1114} fontSize={97} fontFamily={SERIF} fill="#111">(<tspan fontStyle="italic">e</tspan>)</text>
      <text x={2057} y={2100} fontSize={84} fontFamily={SERIF} fontStyle="italic" fill="#111">t</text>
      <rect x={3066} y={1228} width={196} height={630} fill="#fff" stroke={INK} strokeWidth={4} />
      {legend.map(([n, s, c, dash, y, w]) => (
        <g key={n + s}>
          <line x1={3076} x2={3163} y1={y} y2={y} stroke={c} strokeWidth={w} strokeDasharray={dash} />
          <text x={3178} y={y + 17} fontSize={76} fontFamily={SERIF} fontStyle="italic" fill="#111">{n}</text>
          <text x={3217} y={y + 38} fontSize={60} fontFamily={SERIF} fill="#111">{s}</text>
        </g>
      ))}
    </svg>
  );
}

export default function App() {
  return (
    <div style={{ position: "absolute", left: 0, top: 0, width: 3992, height: 2133, background: "#fff", overflow: "hidden" }}>
      <Panel left={252} layers={panelA} top={panelATop} cbShift={0} xNudge={[0, 4, -3, -1]} yNudge={[0, 0, 0, 2]} yGap={32} />
      <Panel left={1265} layers={panelB} top={panelBTop} cbShift={0.07} xNudge={[-1, 5, -2, 0]} yNudge={[0, 0, -2, -4]} yGap={32} />
      <Panel left={2277} layers={panelC} top={panelCTop} cbShift={0.03} xNudge={[-1, 5, -3, 1]} yNudge={[0, 0, -2, 2]} yGap={32} />
      <Panel left={3292} layers={panelD} top={panelDTop} cbShift={0.25} xNudge={[-8, -2, -10, -6]} yNudge={[0, 0, 4, -4]} yGap={37} />
      <PanelE />
      <Labels />
    </div>
  );
}
